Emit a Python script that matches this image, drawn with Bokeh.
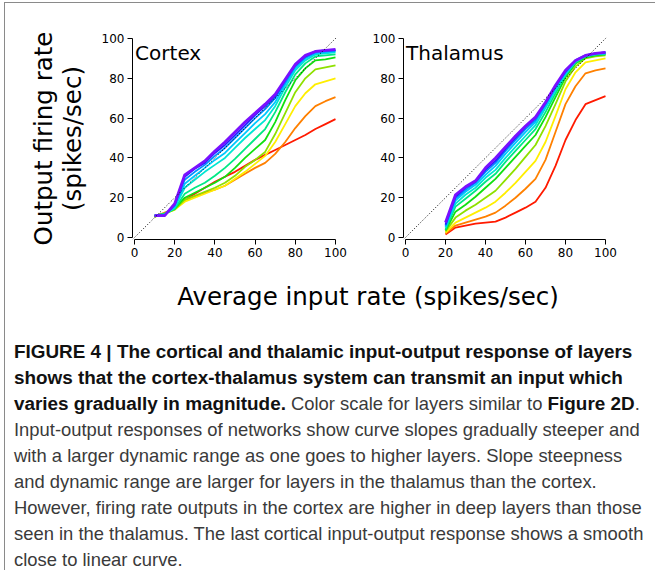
from bokeh.plotting import figure
from bokeh.models import Range1d, FixedTicker, Slope, Label, Div
from bokeh.layouts import column, row
from bokeh.embed import file_html
from bokeh.resources import INLINE

# ---- data -------------------------------------------------------------
TICKS = [0, 20, 40, 60, 80, 100]

CORTEX_X = [10, 15, 20, 25, 30, 35, 40, 45, 50, 55, 60, 65, 70, 75, 80, 85, 90, 95, 100]
THALAMUS_X = [20, 25, 30, 35, 40, 45, 50, 55, 60, 65, 70, 75, 80, 85, 90, 95, 100]

# layer colour scale, first layer (red) to last layer (violet)
LAYER_COLORS = ["#ff1a00", "#ff8000", "#ffee00", "#8fe000", "#10e010", "#00e884",
                "#00e6d2", "#00c8ff", "#0090ff", "#2222ff", "#7a10ff"]

# output firing rate of each cortical layer
CORTEX_LAYERS = [
    [11, 12, 15, 19, 22, 25, 28, 30.5, 33, 36, 39, 41.5, 44, 46.5, 49, 51.5, 54.5, 57, 59.5],
    [10.5, 12.5, 14.5, 18.5, 20.5, 22.5, 24, 26, 29, 32, 35, 37.5, 42, 48, 55, 61, 66, 68.5, 70.5],
    [10.5, 12, 14, 18, 20, 22, 24, 26, 29.5, 33, 37, 41, 48, 57, 66, 72.5, 77, 78.5, 80],
    [10.5, 12, 14, 19, 21, 23, 25, 27.5, 31, 35.5, 39, 43, 52, 62.5, 73, 80, 84.5, 85.5, 86.5],
    [10.5, 12, 14.5, 20, 22.5, 25, 27.5, 30.5, 35, 40, 44.5, 49, 58, 69, 79, 85, 89, 89.5, 90.5],
    [11, 12, 14.5, 22, 25, 27.5, 31, 35, 39.5, 44.5, 49.5, 54.5, 63, 73, 82, 87.5, 91, 91.5, 92],
    [11, 11.5, 15, 25, 29, 33, 36.5, 40, 45, 50, 54.5, 59, 66, 75.5, 84, 89, 92, 92.5, 93],
    [11, 11.5, 15.5, 27, 31, 35, 39, 42.5, 47.5, 52.5, 57.5, 62, 68, 77, 85, 90, 92.5, 93, 93.5],
    [11, 11.5, 16, 29, 33, 36.5, 41, 45, 50, 55, 60, 64.5, 70, 78, 86, 90.5, 93, 93.5, 94],
    [11, 11, 16.5, 30.5, 34.5, 37.5, 42.5, 46.5, 51.5, 56.5, 61.5, 66, 71, 79, 86.5, 91, 93.5, 94, 94],
    [11, 11, 17, 31.5, 35, 38.5, 43.5, 48, 53, 58, 62.5, 67, 72, 79.5, 87, 91.5, 93.5, 94, 94.5],
]

# output firing rate of each thalamic layer
THALAMUS_LAYERS = [
    [1.5, 5, 6, 7, 7.5, 8, 10, 12.5, 15, 18, 25, 36, 49, 59, 67, 69, 71],
    [2, 6, 7.5, 9, 10.5, 12.5, 16, 20, 24.5, 29.5, 39, 53, 67, 76, 82.5, 84, 85],
    [2.5, 7.5, 10, 12.5, 15, 18, 22.5, 27.5, 33, 38.5, 48, 61, 74.5, 83, 88, 89, 90],
    [3, 10, 13.5, 16.5, 20, 23.5, 29, 34.5, 40.5, 46.5, 56, 67, 78.5, 86, 90, 91, 91.5],
    [3.5, 13, 16.5, 20.5, 25, 29.5, 35, 40.5, 46, 51.5, 60.5, 70.5, 80.5, 87.5, 90.5, 91.5, 92],
    [4, 15.5, 19.5, 23.5, 28, 32, 38, 43.5, 49, 54.5, 63, 72.5, 81.5, 88, 91, 92, 92],
    [5, 17, 21.5, 25, 30, 34, 40, 45.5, 51, 56.5, 65, 74, 82, 88.5, 91, 92, 92.5],
    [5.5, 18.5, 23, 26.5, 31.5, 36, 42, 47.5, 53, 58, 66, 75, 82.5, 88.5, 91.5, 92, 92.5],
    [6, 19.5, 24, 27.5, 33, 37.5, 43.5, 49, 54.5, 59, 67, 75.5, 83, 89, 91.5, 92.5, 93],
    [6.5, 20.5, 25, 28, 34, 38.5, 44.5, 50, 55.5, 60, 67.5, 76, 83.5, 89, 91.5, 92.5, 93],
    [7.5, 21.5, 25.5, 28.5, 35, 40, 45.5, 51, 56, 60.5, 68, 76.5, 84, 89, 91.5, 92.5, 93],
]

X_TITLE = "Average input rate (spikes/sec)"
Y_TITLE = "Output firing rate\n(spikes/sec)"

CAPTION_LINES = [
    "<b>FIGURE 4 | The cortical and thalamic input-output response of layers</b>",
    "<b>shows that the cortex-thalamus system can transmit an input which</b>",
    "<b>varies gradually in magnitude.</b> Color scale for layers similar to <b>Figure 2D</b>.",
    "Input-output responses of networks show curve slopes gradually steeper and",
    "with a larger dynamic range as one goes to higher layers. Slope steepness",
    "and dynamic range are larger for layers in the thalamus than the cortex.",
    "However, firing rate outputs in the cortex are higher in deep layers than those",
    "seen in the thalamus. The last cortical input-output response shows a smooth",
    "close to linear curve.",
]

FONT = "DejaVu Sans"


def make_panel(name, xs, layers, width, border_left, border_right, y_title=None):
    p = figure(width=width, height=268,
               x_range=Range1d(-1, 100.5), y_range=Range1d(-1, 100.5),
               output_backend="svg", toolbar_location=None,
               min_border_left=border_left, min_border_right=border_right,
               min_border_top=34, min_border_bottom=32)
    p.outline_line_color = None
    p.grid.visible = False
    p.background_fill_color = "white"
    p.border_fill_color = "white"

    for i, (ys, color) in enumerate(zip(layers, LAYER_COLORS)):
        lw = 2.8 if i == len(layers) - 1 else 1.8
        p.line(xs, ys, line_color=color, line_width=lw, line_join="round")

    # identity line: output equal to input
    p.add_layout(Slope(gradient=1, y_intercept=0, line_color="black",
                       line_width=1, line_dash="1 2"))

    for ax in (p.xaxis[0], p.yaxis[0]):
        ax.bounds = (0, 100)
        ax.ticker = FixedTicker(ticks=TICKS)
        ax.major_tick_out = 5
        ax.major_tick_in = 0
        ax.minor_tick_line_color = None
        ax.axis_line_color = "black"
        ax.major_tick_line_color = "black"
        ax.major_label_text_font = FONT
        ax.major_label_text_font_size = "12px"
        ax.major_label_text_color = "black"
        ax.major_label_standoff = 3

    if y_title:
        p.yaxis.axis_label = y_title
        p.yaxis.axis_label_text_font = FONT
        p.yaxis.axis_label_text_font_size = "24.5px"
        p.yaxis.axis_label_text_font_style = "normal"
        p.yaxis.axis_label_text_color = "black"
        p.yaxis.axis_label_text_line_height = 1.0
        p.yaxis.axis_label_standoff = 12

    p.add_layout(Label(x=0.3, y=92.5, text=name, text_font=FONT,
                       text_font_size="20px", text_color="black",
                       text_baseline="alphabetic"))
    return p


cortex = make_panel("Cortex", CORTEX_X, CORTEX_LAYERS, 364, 127, 33, Y_TITLE)
thalamus = make_panel("Thalamus", THALAMUS_X, THALAMUS_LAYERS, 286, 32, 49)

x_title = Div(
    text=(f'<div style="position:relative; left:38px; width:650px; text-align:center; '
          f'font-family:\'{FONT}\'; font-size:24.5px; line-height:52px; color:black;">'
          f'{X_TITLE}</div>'),
    width=650, height=68, margin=0)

caption = Div(
    text=('<div style="padding-left:9px; font-family:\'Liberation Sans\', Arial, sans-serif; '
          'font-size:18.4px; line-height:26px; color:#3a3a3a; white-space:nowrap;">'
          + "<br>".join(CAPTION_LINES).replace("<b>", '<b style="font-size:18.9px; color:#111;">')
          + '</div>'),
    width=650, height=231, margin=0)

cortex.margin = 0
thalamus.margin = 0
panels = row(cortex, thalamus, margin=0)
page = column(panels, x_title, caption, margin=(2, 0, 0, 4),
              styles={"border-left": "1px solid #8a8a8a", "border-top": "1px solid #8a8a8a"})

open("out.html", "w").write(file_html(page, INLINE))
